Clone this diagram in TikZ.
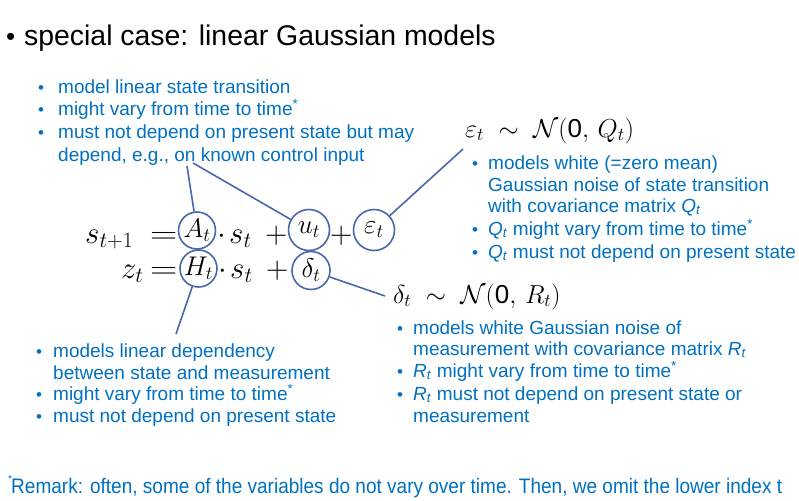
\RequirePackage{fix-cm}
\documentclass[tikz,border=0pt]{standalone}
\usepackage[no-math]{fontspec}
\setmainfont{Liberation Sans}
\definecolor{txtblue}{HTML}{0070C0}
\definecolor{lnblue}{HTML}{4A66AC}
\newcommand{\Qt}{\textit{Q}\textsubscript{\textit{t}}}
\newcommand{\Rt}{\textit{R}\textsubscript{\textit{t}}}
\newcommand{\supast}{\textsuperscript{*}}
\newcommand{\wideeq}{\scalebox{1.22}[1]{$=$}}
\tikzset{
  body/.style={anchor=base west, inner sep=0pt, text=txtblue, font=\fontsize{19}{22}\selectfont},
  bul/.style={anchor=base west, inner sep=0pt, text=txtblue, font=\fontsize{17}{22}\selectfont},
  eqp/.style={anchor=base west, inner sep=0pt, font=\fontsize{31}{31}\selectfont},
  ring/.style={circle, draw=lnblue, line width=1.6pt, minimum size=37pt, inner sep=0pt, font=\fontsize{27}{27}\selectfont},
  bigring/.style={ring, minimum size=41pt},
  conn/.style={draw=lnblue, line width=1.6pt},
  lab/.style={anchor=base west, inner sep=0pt, font=\fontsize{26}{26}\selectfont},
}
\begin{document}
\begin{tikzpicture}[x=1pt,y=-1pt]
\useasboundingbox (0,0) rectangle (799,500);
% title
\node[anchor=base west, inner sep=0pt, font=\fontsize{26}{30}\selectfont] (tb) at (6,46) {\textbullet};
\node[anchor=base west, inner sep=0pt, font=\fontsize{28.4}{30}\selectfont] (title) at (24,46) {special case: linear Gaussian models};
% top-left list
\node[bul] (b11) at (38,93) {\textbullet};
\node[body] (t11) at (58,93) {model linear state transition};
\node[bul] (b12) at (38,115.7) {\textbullet};
\node[body] (t12) at (58,115.7) {might vary from time to time\supast};
\node[bul] (b13) at (38,138.3) {\textbullet};
\node[body] (t13) at (58,138.3) {must not depend on present state but may};
\node[body] (t14) at (58,161) {depend, e.g., on known control input};
% equations line 1
\node[eqp] (s1) at (85,243) {$s_{t+1}$};
\node[eqp] (eq1) at (150,243) {\wideeq};
\node[ring] (A) at (197,230.5) {$A_t$};
\node[eqp] (d1) at (217,243) {$\cdot$};
\node[eqp] (st1) at (229,243) {$s_t$};
\node[eqp] (p1) at (265,243) {$+$};
\node[bigring] (U) at (309,230) {$u_t$};
\node[eqp] (p2) at (330,243) {$+$};
\node[bigring] (E) at (374,230) {$\varepsilon_t$};
% equations line 2
\node[eqp] (z) at (121,278) {$z_t$};
\node[eqp] (eq2) at (150,278) {\wideeq};
\node[ring] (H) at (198.5,268.5) {$H_t$};
\node[eqp] (d2) at (218,278) {$\cdot$};
\node[eqp] (st2) at (230,278) {$s_t$};
\node[eqp] (p3) at (266,278) {$+$};
\node[ring, minimum size=38pt] (D) at (311,270.5) {$\delta_t$};
% connectors
\coordinate (cA) at (187,166);
\coordinate (cU) at (193,163);
\coordinate (cE) at (463,149);
\coordinate (cH) at (176,334);
\coordinate (cD) at (385,296);
\draw[conn] (A) -- (cA);
\draw[conn] (U) -- (cU);
\draw[conn] (E) -- (cE);
\draw[conn] (H) -- (cH);
\draw[conn] (D) -- (cD);
% epsilon label and list
\node[lab] (epsl) at (465,137) {$\varepsilon_t \;\sim\; \mathcal{N}(\mbox{0},\, Q_t)$};
\node[bul] (b21) at (472,169) {\textbullet};
\node[body] (t21) at (488,169) {models white (=zero mean)};
\node[body] (t22) at (488,191) {Gaussian noise of state transition};
\node[body] (t23) at (488,212) {with covariance matrix \Qt};
\node[bul] (b24) at (472,235) {\textbullet};
\node[body] (t24) at (488,235) {\Qt{} might vary from time to time\supast};
\node[bul] (b25) at (472,258) {\textbullet};
\node[body] (t25) at (488,258) {\Qt{} must not depend on present state};
% delta label and list
\node[lab] (dell) at (393,303) {$\delta_t \;\sim\; \mathcal{N}(\mbox{0},\, R_t)$};
\node[bul] (b31) at (397,334) {\textbullet};
\node[body] (t31) at (413,334) {models white Gaussian noise of};
\node[body] (t32) at (413,355) {measurement with covariance matrix \Rt};
\node[bul] (b33) at (397,377) {\textbullet};
\node[body] (t33) at (413,377) {\Rt{} might vary from time to time\supast};
\node[bul] (b34) at (397,400) {\textbullet};
\node[body] (t34) at (413,400) {\Rt{} must not depend on present state or};
\node[body] (t35) at (413,422) {measurement};
% bottom-left list
\node[bul] (b41) at (36,357) {\textbullet};
\node[body] (t41) at (53,357) {models linear dependency};
\node[body] (t42) at (53,379) {between state and measurement};
\node[bul] (b43) at (36,400) {\textbullet};
\node[body] (t43) at (53,400) {might vary from time to time\supast};
\node[bul] (b44) at (36,422) {\textbullet};
\node[body] (t44) at (53,422) {must not depend on present state};
% remark
\node[anchor=base west, inner sep=0pt, text=txtblue, font=\fontsize{10}{10}\selectfont] (rast) at (8,482) {*};
\node[anchor=base west, inner sep=0pt, text=txtblue, font=\fontsize{21}{21}\selectfont] (rem) at (11,493)
  {\resizebox{771pt}{\height}{Remark: often, some of the variables do not vary over time. Then, we omit the lower index t}};
\end{tikzpicture}
\end{document}
